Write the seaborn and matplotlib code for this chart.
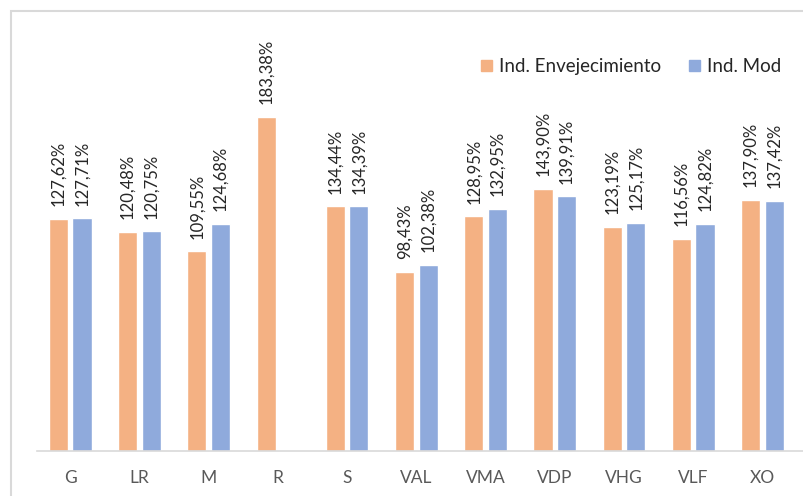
import matplotlib
matplotlib.use("Agg")
import matplotlib.pyplot as plt
import matplotlib.patches as mpatches
import numpy as np
import pandas as pd
import seaborn as sns

# Chart data
categories = ["G", "LR", "M", "R", "S", "VAL", "VMA", "VDP", "VHG", "VLF", "XO"]
ind_envejecimiento = [127.62, 120.48, 109.55, 183.38, 134.44, 98.43, 128.95, 143.90, 123.19, 116.56, 137.90]
ind_mod = [127.71, 120.75, 124.68, np.nan, 134.39, 102.38, 132.95, 139.91, 125.17, 124.82, 137.42]
series_names = ["Ind. Envejecimiento", "Ind. Mod"]
series_colors = ["#F4B183", "#8FAADC"]

sns.set_theme(style="white")
plt.rcParams['font.family'] = ['Lato', 'DejaVu Sans']

df = pd.DataFrame({
    "cat": categories * 2,
    "serie": [series_names[0]] * len(categories) + [series_names[1]] * len(categories),
    "valor": ind_envejecimiento + ind_mod,
})

fig = plt.figure(figsize=(8.04, 4.96), dpi=100)
ax = fig.add_axes([37 / 804, 45 / 496, 1 - 37 / 804, 439 / 496])

sns.barplot(data=df, x="cat", y="valor", hue="serie", order=categories,
            hue_order=series_names, palette=series_colors, width=0.68, gap=0.19,
            saturation=1, errorbar=None, ax=ax, legend=False)

# rotated data labels with comma decimals
for cont in ax.containers:
    for bar in cont:
        if bar is None:
            continue
        h = bar.get_height()
        if np.isnan(h):
            continue
        ax.annotate(f"{h:.2f}%".replace(".", ","),
                    (bar.get_x() + bar.get_width() / 2, h),
                    xytext=(0, 9), textcoords="offset points",
                    rotation=90, ha="center", va="bottom",
                    fontsize=12, color="#262626")

ax.set_ylim(0, 241)
ax.set_xlim(-0.48, 10.6)
ax.set_xlabel("")
ax.set_ylabel("")
ax.set_yticks([])
ax.tick_params(axis="x", length=0, pad=14, labelsize=12.5, labelcolor="#595959")
for s in ["top", "right", "left"]:
    ax.spines[s].set_visible(False)
ax.spines["bottom"].set_color("#D9D9D9")
ax.spines["bottom"].set_linewidth(1.2)

handles = [mpatches.Patch(color=c, label=n) for c, n in zip(series_colors, series_names)]
ax.legend(handles=handles, loc="center", bbox_to_anchor=(0.775, 0.875), ncol=2,
          frameon=False, fontsize=13.5, handlelength=0.55, handleheight=0.55,
          handletextpad=0.4, columnspacing=1.5, labelcolor="#262626")

# outer chart border (cropped at bottom/right)
fig.add_artist(mpatches.Rectangle((11 / 804, -0.1), 1.2, 1.1 - 11 / 496,
                                  transform=fig.transFigure, fill=False,
                                  edgecolor="#D9D9D9", linewidth=1.5))

fig.savefig("out.png", dpi=100)
